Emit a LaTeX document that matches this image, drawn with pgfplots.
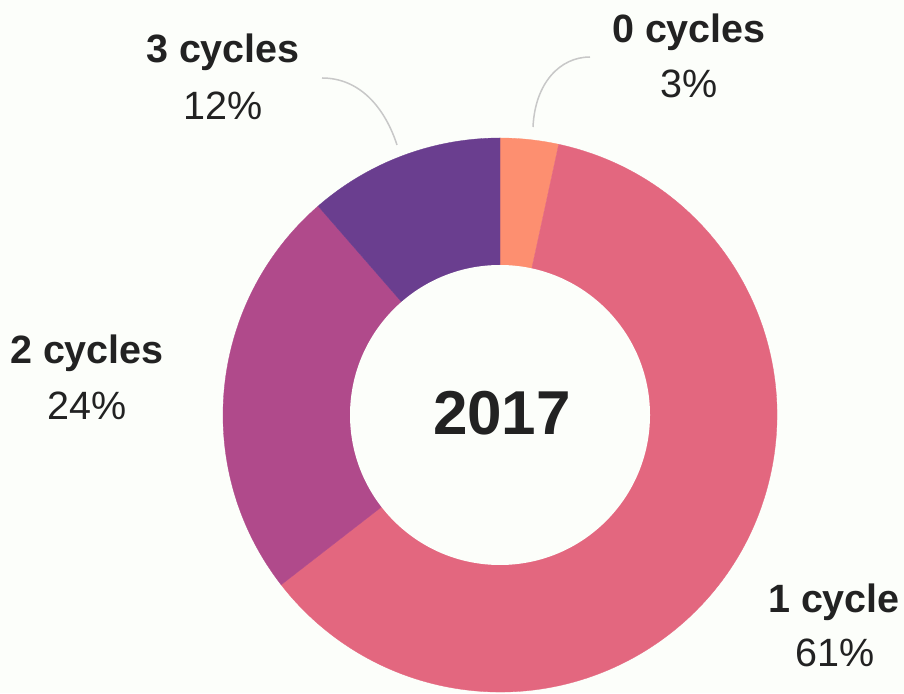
\documentclass[border=0pt]{standalone}
\usepackage{pgfplots}
\pgfplotsset{compat=1.18}
\usepackage{fontspec}
\setmainfont{Liberation Sans}
\usetikzlibrary{calc}
\definecolor{bg}{HTML}{FCFEFA}
\definecolor{cA}{HTML}{FD8F70}
\definecolor{cB}{HTML}{E3677F}
\definecolor{cC}{HTML}{B04A8B}
\definecolor{cD}{HTML}{6A3E8F}
\definecolor{txt}{HTML}{222222}
\definecolor{lead}{HTML}{C8C8C8}
% shares (percent) of the four slices
\def\vA{3.4}\def\vB{61.1}\def\vC{24.1}\def\vD{11.4}
\begin{document}
\begin{tikzpicture}
\pgfmathsetmacro\aA{90}
\pgfmathsetmacro\aB{90-3.6*\vA}
\pgfmathsetmacro\aC{\aB-3.6*\vB}
\pgfmathsetmacro\aD{\aC-3.6*\vC}
\pgfmathsetmacro\aE{\aD-3.6*\vD}
\begin{axis}[x=1pt,y=1pt,xmin=0,xmax=904,ymin=0,ymax=693,hide axis,clip=false]
\fill[bg] (axis cs:0,0) rectangle (axis cs:904,693);
\filldraw[cA,line width=0.3pt] (axis cs:500,278) -- ++(\aA:277pt) arc[start angle=\aA, end angle=\aB, radius=277pt] -- cycle;
\filldraw[cB,line width=0.3pt] (axis cs:500,278) -- ++(\aB:277pt) arc[start angle=\aB, end angle=\aC, radius=277pt] -- cycle;
\filldraw[cC,line width=0.3pt] (axis cs:500,278) -- ++(\aC:277pt) arc[start angle=\aC, end angle=\aD, radius=277pt] -- cycle;
\filldraw[cD,line width=0.3pt] (axis cs:500,278) -- ++(\aD:277pt) arc[start angle=\aD, end angle=\aE, radius=277pt] -- cycle;
\fill[bg] (axis cs:500,278) circle[radius=150pt];
% leader lines
\draw[lead,line width=1.5pt] (axis cs:533,566) .. controls (axis cs:535,610) and (axis cs:560,636) .. (axis cs:590,636);
\draw[lead,line width=1.5pt] (axis cs:397,548) .. controls (axis cs:385,585) and (axis cs:360,615) .. (axis cs:322,615);
% labels
\begin{scope}[every node/.style={text=txt,anchor=base,inner sep=0pt}]
\node[font=\fontsize{39.5}{47}\selectfont\bfseries] at (axis cs:689,650) {0 cycles};
\node[font=\fontsize{39.5}{47}\selectfont] at (axis cs:689,595) {3\%};
\node[font=\fontsize{39.5}{47}\selectfont\bfseries] at (axis cs:223,630) {3 cycles};
\node[font=\fontsize{39.5}{47}\selectfont] at (axis cs:223,573) {12\%};
\node[font=\fontsize{39.5}{47}\selectfont\bfseries] at (axis cs:87,329) {2 cycles};
\node[font=\fontsize{39.5}{47}\selectfont] at (axis cs:87,273) {24\%};
\node[font=\fontsize{39.5}{47}\selectfont\bfseries] at (axis cs:834,81) {1 cycle};
\node[font=\fontsize{39.5}{47}\selectfont] at (axis cs:835,27) {61\%};
\node[font=\fontsize{62}{70}\selectfont\bfseries] at (axis cs:502,258) {2017};
\end{scope}
\end{axis}
\pgfresetboundingbox
\path[use as bounding box] (current axis.south west) rectangle (current axis.north east);
\end{tikzpicture}
\end{document}
